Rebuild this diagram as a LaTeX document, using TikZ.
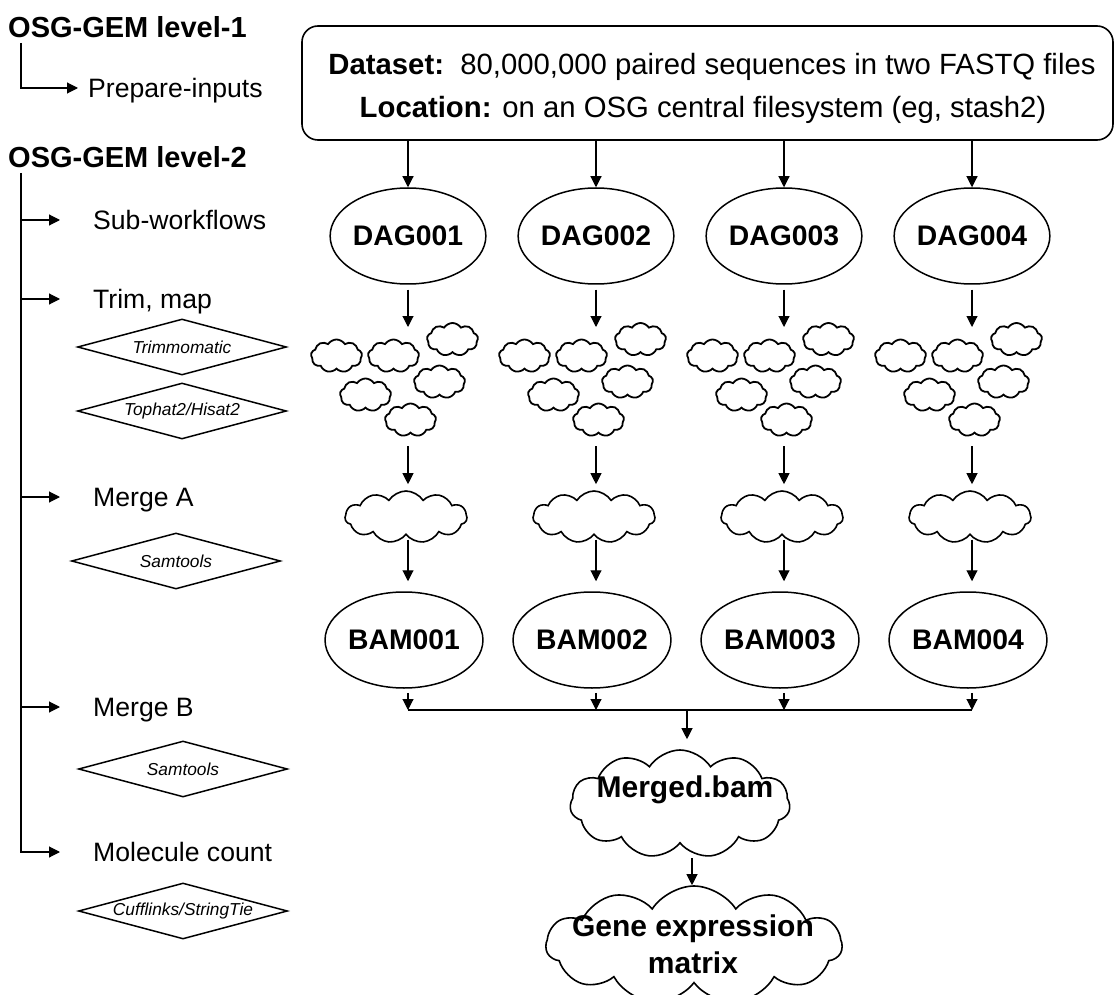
\documentclass[tikz,border=0pt]{standalone}
\usepackage{fontspec}
\setmainfont{Liberation Sans}
\usetikzlibrary{shapes.geometric,shapes.symbols,arrows.meta}
\begin{document}
\begin{tikzpicture}[x=1pt,y=-1pt,
  arr/.style={draw, line width=1.1pt, -{Triangle[length=11pt,width=11pt]}},
  conn/.style={draw, line width=1.1pt},
  head/.style={font=\fontsize{29}{34}\selectfont\bfseries, inner sep=0pt, anchor=base west},
  item/.style={font=\fontsize{26.6}{31}\selectfont, inner sep=0pt, anchor=base west},
  tool/.style={diamond, draw, line width=1.5pt, aspect=3.73, minimum width=209pt, minimum height=56pt, inner sep=0pt, font=\fontsize{17.3}{20}\selectfont\itshape},
  oval/.style={ellipse, draw, line width=1.5pt, minimum width=152pt, minimum height=96pt, inner sep=0pt, font=\fontsize{28.3}{34}\selectfont\bfseries},
  puff/.style={cloud, draw, line width=1.8pt, cloud puffs=9, cloud puff arc=115, cloud ignores aspect, minimum width=51pt, minimum height=33pt, inner sep=0pt},
  mcloud/.style={cloud, draw, line width=1.6pt, cloud puffs=11, cloud puff arc=115, cloud ignores aspect, minimum width=122pt, minimum height=52pt, inner sep=0pt},
  bigcloud/.style={cloud, draw, line width=1.6pt, cloud puffs=11, cloud puff arc=115, cloud ignores aspect, inner sep=0pt},
  bigtext/.style={font=\fontsize{30}{37}\selectfont\bfseries, inner sep=0pt, align=center},
  boxtext/.style={font=\fontsize{29.3}{35}\selectfont, inner sep=0pt, anchor=base}
]
\useasboundingbox (0,0) rectangle (1117,995);

% ---------- left legend ----------
\node[head] (h1) at (8,37.5) {OSG-GEM level-1};
\node[head] (h2) at (8,168) {OSG-GEM level-2};
\coordinate (t1) at (21,43);
\coordinate (t2) at (21,173);
\coordinate (a0) at (78,88);
\coordinate (a1) at (60,220);
\coordinate (a2) at (60,299);
\coordinate (a3) at (60,497);
\coordinate (a4) at (60,707);
\coordinate (a5) at (60,852);
\node[item] (pi) at (88,98) {Prepare-inputs};
\node[item] (sw) at (93,229.5) {Sub-workflows};
\node[item] (tm) at (93,308.5) {Trim, map};
\node[item] (ma) at (93,506.5) {Merge A};
\node[item] (mb) at (93,716.5) {Merge B};
\node[item] (mc) at (93,861.5) {Molecule count};
\draw[arr] (t1) |- (a0);
\draw[arr] (t2) |- (a5);
\draw[arr] (t2 |- a1) -- (a1);
\draw[arr] (t2 |- a2) -- (a2);
\draw[arr] (t2 |- a3) -- (a3);
\draw[arr] (t2 |- a4) -- (a4);
\node[tool] (d1) at (182,347) {Trimmomatic};
\node[tool] (d2) at (182,411) {Tophat2/Hisat2};
\node[tool] (d3) at (176,561) {Samtools};
\node[tool] (d4) at (183,769) {Samtools};
\node[tool] (d5) at (183,911) {Cufflinks/StringTie};

% ---------- dataset box ----------
\node[draw, rounded corners=16pt, line width=1.6pt, minimum width=811pt, minimum height=114pt, inner sep=0pt] (box) at (707.5,83) {};
\node[boxtext] (l1) at (712,75) {\textbf{Dataset:}\ \ 80,000,000 paired sequences in two FASTQ files};
\node[boxtext] (l2) at (703,118) {\textbf{Location:} on an OSG central filesystem (eg, stash2)};

% ---------- columns ----------
\foreach \i/\x in {1/408,2/596,3/784,4/972}{
  \node[oval] (dag\i) at (\x,236) {DAG00\i};
  \draw[arr] (box.south -| dag\i.north) -- (dag\i.north);
  \coordinate (ct\i) at (\x,327);
  \coordinate (cb\i) at (\x,446);
  \draw[arr, shorten <=5pt] (dag\i.south) -- (ct\i);
  \foreach \k/\dx/\y in {1/-71.5/356, 2/-14.5/356, 3/44.5/339.5, 4/-42.5/395, 5/31.5/382, 6/2.5/420}{
    \node[puff] (c\i-\k) at (\x+\dx,\y) {};
  }
  \node[mcloud] (m\i) at (\x-2,517) {};
  \draw[arr, shorten >=6pt] (cb\i) -- (cb\i |- m\i.north);
  \node[oval] (bam\i) at (\x-4,640) {BAM00\i};
  \draw[arr, shorten <=4pt, shorten >=10pt] (m\i.south -| cb\i) -- (cb\i |- bam\i.north);
  \coordinate (j\i) at (\x,710);
  \draw[arr, shorten <=4pt] (bam\i.south -| j\i) -- (j\i);
}
\draw[conn] (j1) -- (j4);

% ---------- merged ----------
\node[bigcloud, minimum width=220pt, minimum height=108pt] (merged) at (680,804) {};
\node[bigtext] (mtext) at (685,790) {Merged.bam};
\coordinate (jm) at (687,710);
\draw[arr, shorten >=10pt] (jm) -- (jm |- merged.north);

\node[bigcloud, minimum width=296pt, minimum height=118pt] (gene) at (694,945) {};
\node[bigtext] (gtext) at (693,944) {Gene expression\\matrix};
\coordinate (mg) at (692,858);
\draw[arr] (mg) -- (mg |- gene.north);
\end{tikzpicture}
\end{document}
